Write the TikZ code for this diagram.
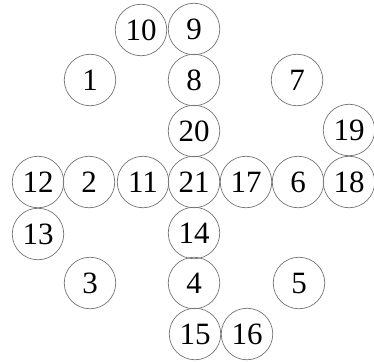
\documentclass[tikz,border=0pt]{standalone}
\usepackage{fontspec}
\setmainfont{Liberation Serif}
\begin{document}
\begin{tikzpicture}[x=1pt,y=-1pt,
  cell/.style={circle,draw=black!55,line width=0.7pt,minimum size=51.5pt,inner sep=0pt,font=\fontsize{31}{31}\selectfont}]
\useasboundingbox (0,0) rectangle (374,361);
\node[cell] (n10) at (141,30) {10};
\node[cell] (n9) at (194,29) {9};
\node[cell] (n1) at (90,80) {1};
\node[cell] (n8) at (194,80) {8};
\node[cell] (n7) at (297,80) {7};
\node[cell] (n20) at (194,131) {20};
\node[cell] (n19) at (349,130) {19};
\node[cell] (n12) at (38,182) {12};
\node[cell] (n2) at (89,182) {2};
\node[cell] (n11) at (143,182) {11};
\node[cell] (n21) at (194,182) {21};
\node[cell] (n17) at (246,182) {17};
\node[cell] (n6) at (298,182) {6};
\node[cell] (n18) at (349,182) {18};
\node[cell] (n13) at (38,234) {13};
\node[cell] (n14) at (194,233) {14};
\node[cell] (n3) at (90,283) {3};
\node[cell] (n4) at (194,283) {4};
\node[cell] (n5) at (299,283) {5};
\node[cell] (n15) at (195,334) {15};
\node[cell] (n16) at (247,334) {16};
\end{tikzpicture}
\end{document}
